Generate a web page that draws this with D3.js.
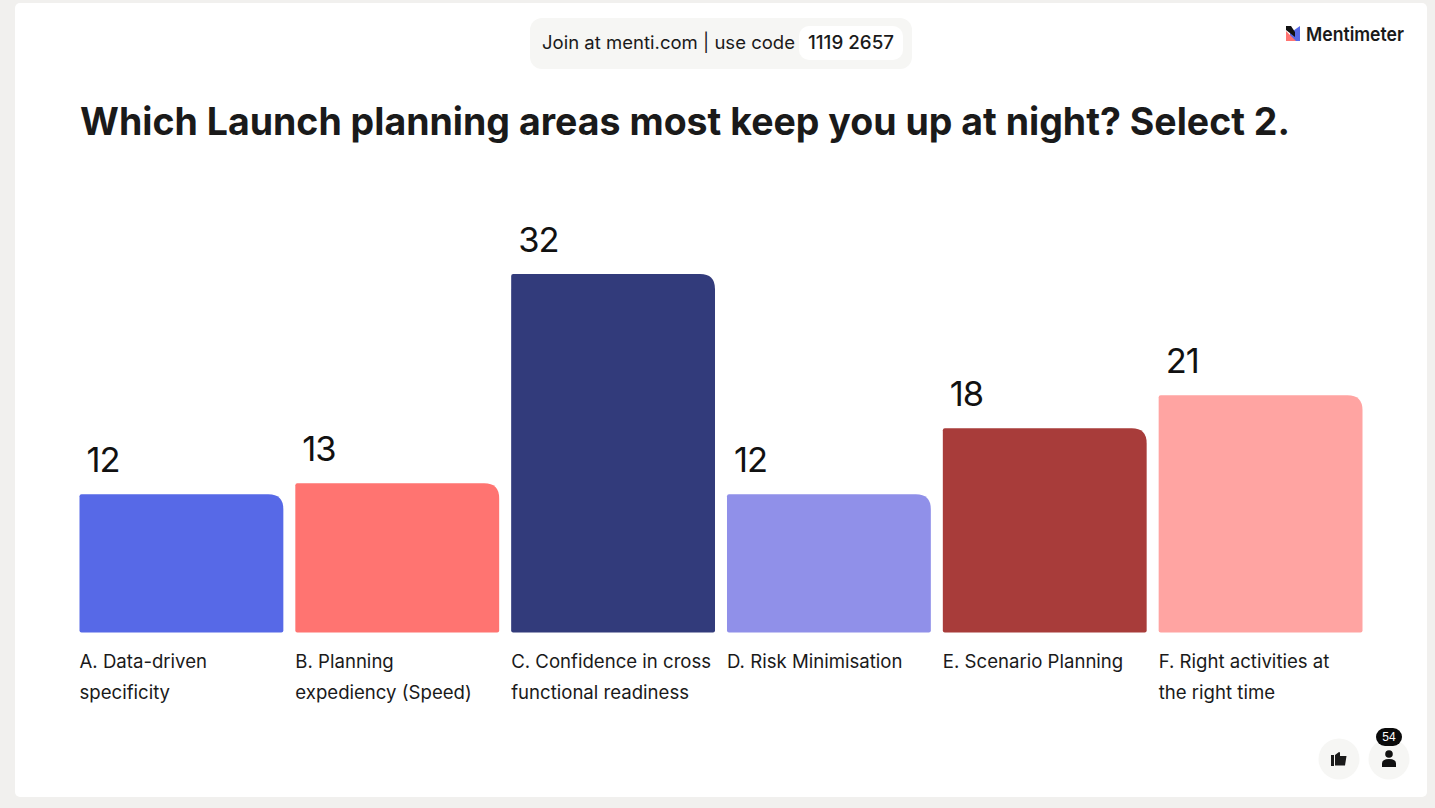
<!DOCTYPE html>
<html lang="en">

<head>
    <meta charset="UTF-8">
    <title>Which Launch planning areas most keep you up at night?</title>
    <style>
        html, body {
            margin: 0;
            padding: 0;
            background: #f1f0ee;
            overflow: hidden;
        }

        svg {
            display: block;
        }

        text {
            font-family: Inter, sans-serif;
            fill: #1a1a1a;
        }
    </style>
</head>

<body>
    <svg></svg>
    <script src="https://cdn.jsdelivr.net/npm/d3@7.8.5/dist/d3.min.js"></script>
    <script>
        const categories = [
            ['A. Data-driven', 'specificity'],
            ['B. Planning', 'expediency (Speed)'],
            ['C. Confidence in cross', 'functional readiness'],
            ['D. Risk Minimisation'],
            ['E. Scenario Planning'],
            ['F. Right activities at', 'the right time']
        ]
        const values = [12, 13, 32, 12, 18, 21]
        const colors = ['#5769e7', '#ff7471', '#323b7b', '#9090e9', '#a83c3a', '#ffa4a2']

        const width = 1435
        const height = 808
        const baseline = 632.5
        const minBar = 6
        const radius = 15

        const svg = d3.select('svg').attr('width', width).attr('height', height)

        // card
        svg.append('rect')
            .attr('x', 15).attr('y', 3)
            .attr('width', 1412).attr('height', 794)
            .attr('rx', 5)
            .attr('fill', '#fff')

        // join banner
        svg.append('rect')
            .attr('x', 530).attr('y', 18)
            .attr('width', 382).attr('height', 51)
            .attr('rx', 12)
            .attr('fill', '#f6f6f4')
        svg.append('rect')
            .attr('x', 799).attr('y', 26)
            .attr('width', 104).attr('height', 34)
            .attr('rx', 10)
            .attr('fill', '#fff')
        svg.append('text')
            .attr('x', 542).attr('y', 49)
            .attr('font-size', 18)
            .attr('textLength', 253)
            .attr('lengthAdjust', 'spacingAndGlyphs')
            .text('Join at menti.com | use code')
        svg.append('text')
            .attr('x', 808).attr('y', 49)
            .attr('font-size', 18.5)
            .attr('font-weight', 500)
            .attr('textLength', 86)
            .attr('lengthAdjust', 'spacingAndGlyphs')
            .text('1119 2657')

        // logo
        const logo = svg.append('g').attr('transform', 'translate(1286, 26)')
        logo.append('path').attr('d', 'M4 7L14 0V15H4Z').attr('fill', '#5769e7')
        logo.append('path').attr('d', 'M0 5L10 15H0Z').attr('fill', '#ff7471')
        logo.append('path').attr('d', 'M0 0H5L9 6V11L0 4Z').attr('fill', '#111')
        svg.append('text')
            .attr('x', 1306).attr('y', 41)
            .attr('font-size', 19)
            .attr('font-weight', 600)
            .attr('textLength', 98)
            .attr('lengthAdjust', 'spacingAndGlyphs')
            .text('Mentimeter')

        // title
        svg.append('text')
            .attr('x', 80).attr('y', 135)
            .attr('font-size', 38)
            .attr('font-weight', 700)
            .attr('textLength', 1210)
            .attr('lengthAdjust', 'spacingAndGlyphs')
            .text('Which Launch planning areas most keep you up at night? Select 2.')

        const x = d3.scaleBand()
            .domain(d3.range(values.length))
            .range([79.5, 1362.5])
            .paddingInner(12 / 216)

        const y = d3.scaleLinear()
            .domain([0, 32])
            .range([baseline - minBar, 274])

        function barPath(i, v) {
            const x0 = x(i)
            const x1 = x0 + x.bandwidth()
            const top = y(v)
            const r = 2
            return `M${x0 + r},${baseline} Q${x0},${baseline} ${x0},${baseline - r} V${top + r} Q${x0},${top} ${x0 + r},${top} ` +
                `H${x1 - radius} Q${x1},${top} ${x1},${top + radius} V${baseline - r} Q${x1},${baseline} ${x1 - r},${baseline} Z`
        }

        svg.append('g')
            .selectAll('path')
            .data(values)
            .join('path')
            .attr('d', (d, i) => barPath(i, d))
            .attr('fill', (d, i) => colors[i])

        svg.append('g')
            .selectAll('text')
            .data(values)
            .join('text')
            .attr('x', (d, i) => x(i) + 7)
            .attr('y', d => y(d) - 22)
            .attr('font-size', 34.5)
            .style('letter-spacing', '-1px')
            .style('fill', '#111')
            .text(d => d)

        const labels = svg.append('g')
            .selectAll('g')
            .data(categories)
            .join('g')
            .attr('transform', (d, i) => `translate(${x(i)}, 0)`)

        labels.selectAll('text')
            .data(d => d)
            .join('text')
            .attr('y', (d, i) => 668 + i * 31)
            .attr('font-size', 18.6)
            .text(d => d)

        // reaction buttons
        const buttons = svg.append('g')
        buttons.selectAll('circle')
            .data([1339, 1389])
            .join('circle')
            .attr('cx', d => d).attr('cy', 759)
            .attr('r', 20.5)
            .attr('fill', '#f6f6f4')

        // thumbs up
        buttons.append('path')
            .attr('d', 'M1331 755H1334V766H1331Z M1335 755L1339 752L1340 752.5V756H1346.5L1345 765.5H1335Z')
            .attr('fill', '#1a1a1a')

        // person
        buttons.append('circle').attr('cx', 1389).attr('cy', 754).attr('r', 3.8).attr('fill', '#111')
        buttons.append('path')
            .attr('d', 'M1382 767V763.5Q1382 759 1389 759Q1396 759 1396 763.5V767Z')
            .attr('fill', '#111')

        // participant count
        svg.append('rect')
            .attr('x', 1376).attr('y', 728)
            .attr('width', 26).attr('height', 18)
            .attr('rx', 9)
            .attr('fill', '#0b0b0b')
        svg.append('text')
            .attr('x', 1389).attr('y', 741)
            .attr('text-anchor', 'middle')
            .attr('font-size', 12)
            .style('fill', '#fff')
            .style('font-family', '"Liberation Sans", sans-serif')
            .text('54')
    </script>
</body>

</html>
